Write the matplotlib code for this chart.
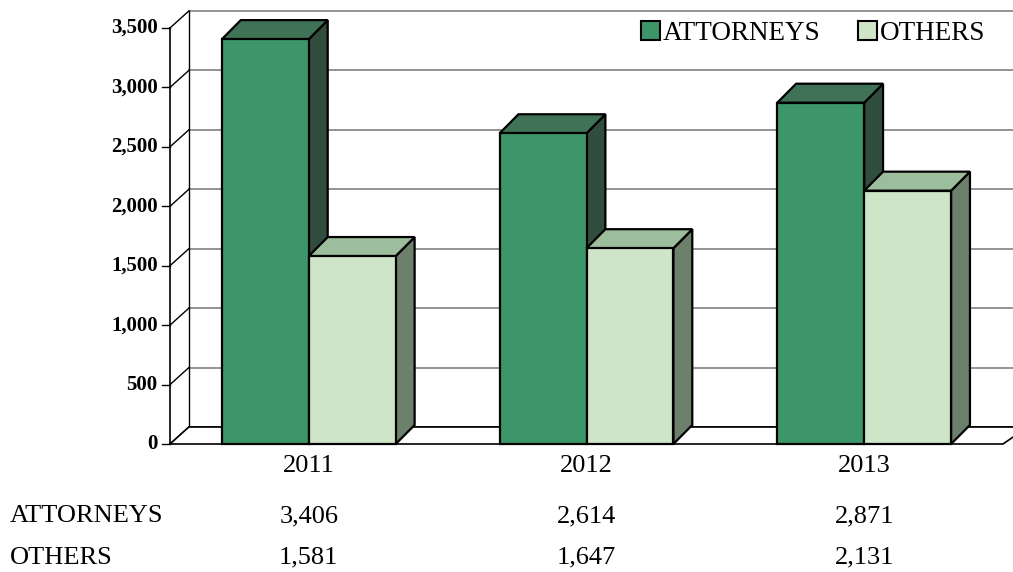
import numpy as np
import matplotlib
matplotlib.use("Agg")
import matplotlib.pyplot as plt
from matplotlib.patches import Polygon, Patch

plt.rcParams['font.family'] = ['Liberation Serif', 'DejaVu Serif']

years = ['2011', '2012', '2013']
attorneys = [3406, 2614, 2871]
others = [1581, 1647, 2131]
series_names = ['ATTORNEYS', 'OTHERS']
yticks = [0, 500, 1000, 1500, 2000, 2500, 3000, 3500]

# colours: front, top, side
c_att = ('#3c9669', '#407355', '#304d3e')
c_oth = ('#cfe5c7', '#9cbe9c', '#6c806c')

fig = plt.figure(figsize=(10.13, 5.72), dpi=100)
ax = fig.add_axes([170/1013, 128/572, 843/1013, 434/572])
ax.set_xlim(-0.5, 2.536)
ax.set_ylim(0, 3651)
ax.axis('off')

# 3d depth (data units)
WDX, WDY = 0.068, 143      # walls
BDX, BDY = 0.068, 160      # bars
BW = 0.313
x0, x1 = -0.5, 2.5

# back wall gridlines + left wall diagonals + ticks
for v in yticks:
    col = 'black' if v == 0 else '#808080'
    ax.plot([x0 + WDX, 2.536], [v + WDY, v + WDY], color=col, lw=1.2, zorder=1, clip_on=False)
    ax.plot([x0, x0 + WDX], [v, v + WDY], color='black', lw=1.0, zorder=1, clip_on=False)
    ax.plot([x0 - 0.029, x0], [v, v], color='black', lw=1.0, zorder=1, clip_on=False)
    ax.text(x0 - 0.045, v, f'{v:,}', ha='right', va='center', fontsize=15,
            fontweight='bold')

# walls edges
ax.plot([x0, x0], [0, 3500], color='black', lw=1.2, zorder=1, clip_on=False)
ax.plot([x0 + WDX, x0 + WDX], [WDY, 3500 + WDY], color='black', lw=1.0, zorder=1, clip_on=False)
# floor
ax.add_patch(Polygon([[x0, 0], [x1, 0], [x1 + WDX * 1.3, WDY], [x0 + WDX, WDY]],
                     closed=True, facecolor='white', edgecolor='black', lw=1.2,
                     zorder=1, clip_on=False))


def bar3d(xl, h, cols, z):
    xr = xl + BW
    side = [[xr, 0], [xr + BDX, BDY], [xr + BDX, h + BDY], [xr, h]]
    top = [[xl, h], [xr, h], [xr + BDX, h + BDY], [xl + BDX, h + BDY]]
    front = [[xl, 0], [xr, 0], [xr, h], [xl, h]]
    for pts, c in ((side, cols[2]), (top, cols[1]), (front, cols[0])):
        ax.add_patch(Polygon(pts, closed=True, facecolor=c, edgecolor='black',
                             lw=1.6, joinstyle='miter', zorder=z, clip_on=False))


for i in range(len(years)):
    bar3d(i - BW, attorneys[i], c_att, 3 + i * 2)
    bar3d(i, others[i], c_oth, 4 + i * 2)

# data table
fs = 19
for i, y in enumerate(years):
    ax.text(i, -0.051, y, transform=ax.get_xaxis_transform(), ha='center', va='center', fontsize=fs)
    ax.text(i, -0.166, f'{attorneys[i]:,}', transform=ax.get_xaxis_transform(), ha='center', va='center', fontsize=fs)
    ax.text(i, -0.262, f'{others[i]:,}', transform=ax.get_xaxis_transform(), ha='center', va='center', fontsize=fs)
ax.text(-0.19, -0.166, series_names[0], transform=ax.transAxes, ha='left', va='center', fontsize=fs)
ax.text(-0.19, -0.262, series_names[1], transform=ax.transAxes, ha='left', va='center', fontsize=fs)

handles = [Patch(facecolor=c_att[0], edgecolor='black', lw=1.5),
           Patch(facecolor=c_oth[0], edgecolor='black', lw=1.5)]
fig.legend(handles, series_names, loc='center', bbox_to_anchor=(813/1013, 1 - 33/572),
           ncol=2, frameon=False, handlelength=0.7, handleheight=0.7,
           handletextpad=0.1, columnspacing=1.4, fontsize=19.5)

fig.savefig('out.png', dpi=100)
